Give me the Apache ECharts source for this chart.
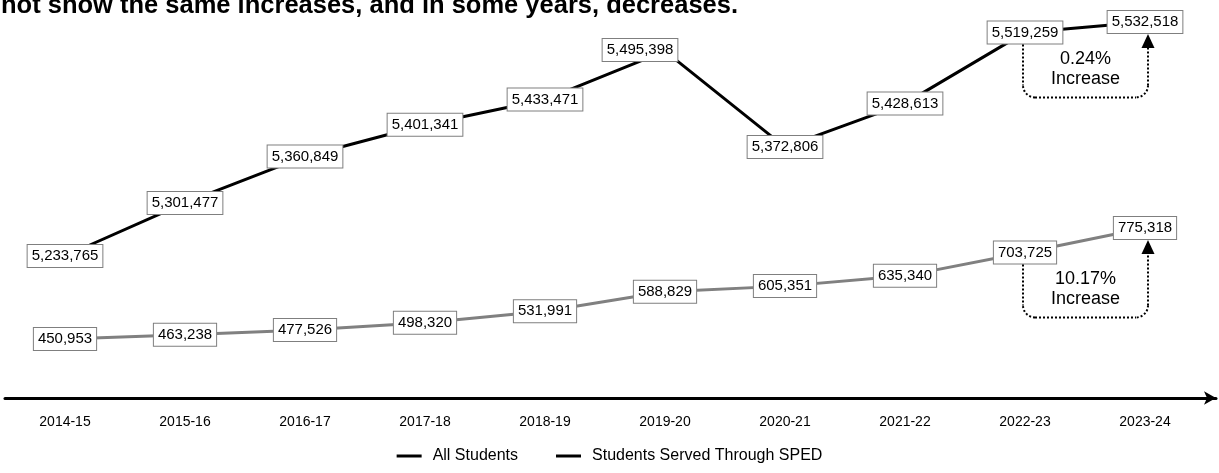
<!DOCTYPE html>
<html>
<head>
<meta charset="utf-8">
<script src="https://cdn.jsdelivr.net/npm/echarts@6/dist/echarts.min.js"></script>
<style>
  html, body { margin: 0; padding: 0; background: #fff; }
  #chart { width: 1219px; height: 473px; }
</style>
</head>
<body>
<div id="chart"></div>
<script>
// School years shown along the horizontal axis
const categories = ['2014-15', '2015-16', '2016-17', '2017-18', '2018-19',
                    '2019-20', '2020-21', '2021-22', '2022-23', '2023-24'];
// Enrollment counts
const allStudents = [5233765, 5301477, 5360849, 5401341, 5433471,
                     5495398, 5372806, 5428613, 5519259, 5532518];
const spedStudents = [450953, 463238, 477526, 498320, 531991,
                      588829, 605351, 635340, 703725, 775318];
const seriesNames = ['All Students', 'Students Served Through SPED'];
const headline = 'not show the same increases, and in some years, decreases.';

const FONT = '"Liberation Sans", Arial, Helvetica, sans-serif';
const fmt = v => v.toLocaleString('en-US');

const labelBox = {
  show: true,
  position: 'inside',
  formatter: p => fmt(p.value),
  color: '#000',
  fontFamily: FONT,
  fontSize: 15,
  lineHeight: 16,
  backgroundColor: '#fff',
  borderColor: '#7f7f7f',
  borderWidth: 1,
  padding: [3, 4]
};

const chart = echarts.init(document.getElementById('chart'), null, { renderer: 'canvas' });

chart.setOption({
  animation: false,
  backgroundColor: '#fff',
  textStyle: { fontFamily: FONT },
  grid: [
    { left: 5, width: 1200, top: 10, bottom: 75 },
    { left: 5, right: 3, top: 10, bottom: 75 }
  ],
  legend: {
    bottom: 4,
    left: 'center',
    icon: 'rect',
    itemWidth: 25,
    itemHeight: 3,
    itemGap: 38,
    textStyle: { fontFamily: FONT, fontSize: 16, color: '#000', padding: [0, 0, 0, 6] },
    data: seriesNames.map(n => ({ name: n, itemStyle: { color: '#000' } }))
  },
  xAxis: [
    {
      type: 'category',
      gridIndex: 0,
      data: categories,
      boundaryGap: true,
      axisLine: { show: false },
      axisTick: { show: false },
      axisLabel: { color: '#000', fontSize: 14, margin: 17, fontFamily: FONT }
    },
    {
      type: 'value',
      gridIndex: 1,
      min: 0, max: 1,
      axisLine: {
        show: true,
        symbol: ['none', 'arrow'],
        symbolSize: [10, 12],
        lineStyle: { color: '#000', width: 3 }
      },
      axisTick: { show: false },
      axisLabel: { show: false },
      splitLine: { show: false }
    }
  ],
  yAxis: [
    { type: 'value', gridIndex: 0, min: 5052474, max: 5547833, show: false, splitLine: { show: false } },
    { type: 'value', gridIndex: 0, min: 278673, max: 1411633, show: false, splitLine: { show: false } },
    { type: 'value', gridIndex: 1, min: 0, max: 1, show: false, splitLine: { show: false } }
  ],
  series: [
    {
      name: seriesNames[0],
      type: 'line',
      xAxisIndex: 0,
      yAxisIndex: 0,
      data: allStudents.map((v, i) => i === 5 ? { value: v, label: { offset: [-25, -1] } } : v),
      symbol: 'circle',
      symbolSize: 1,
      lineStyle: { color: '#000', width: 3 },
      itemStyle: { color: '#000' },
      label: labelBox,
      z: 3
    },
    {
      name: seriesNames[1],
      type: 'line',
      xAxisIndex: 0,
      yAxisIndex: 1,
      data: spedStudents,
      symbol: 'circle',
      symbolSize: 1,
      lineStyle: { color: '#808080', width: 3 },
      itemStyle: { color: '#808080' },
      label: labelBox,
      z: 3
    }
  ]
});

// Dotted "percent increase" callouts between the last two school years
function callout(seriesIndex, values, tag) {
  const n = values.length;
  const p0 = chart.convertToPixel({ seriesIndex }, [n - 2, values[n - 2]]);
  const p1 = chart.convertToPixel({ seriesIndex }, [n - 1, values[n - 1]]);
  const pct = ((values[n - 1] - values[n - 2]) / values[n - 2] * 100).toFixed(2) + '%';
  const x0 = p0[0] - 2;
  const x1 = p1[0] + 3;
  const yStart = p0[1] + 12;
  const yBottom = p0[1] + 65;
  const yTip = p1[1] + 12;
  const r = 12;
  const dash = { stroke: '#000', lineWidth: 2, lineDash: [2, 2], fill: null };
  const mid = (yStart + yBottom) / 2 - 2;
  return [
    { type: 'polyline', id: tag + 'l', shape: { points: [[x0, yStart], [x0, yBottom - r]] }, style: dash, z: 10 },
    { type: 'arc', id: tag + 'a1', shape: { cx: x0 + r, cy: yBottom - r, r, startAngle: Math.PI / 2, endAngle: Math.PI, clockwise: true }, style: dash, z: 10 },
    { type: 'polyline', id: tag + 'b', shape: { points: [[x0 + r, yBottom], [x1 - r, yBottom]] }, style: dash, z: 10 },
    { type: 'arc', id: tag + 'a2', shape: { cx: x1 - r, cy: yBottom - r, r, startAngle: 0, endAngle: Math.PI / 2, clockwise: true }, style: dash, z: 10 },
    { type: 'polyline', id: tag + 'r', shape: { points: [[x1, yBottom - r], [x1, yTip + 12]] }, style: dash, z: 10 },
    { type: 'polygon', id: tag + 'h', shape: { points: [[x1, yTip], [x1 - 6.5, yTip + 14], [x1 + 6.5, yTip + 14]] }, style: { fill: '#000' }, z: 10 },
    { type: 'text', id: tag + 't', x: (x0 + x1) / 2, y: mid,
      style: { text: pct + '\nIncrease', fill: '#000', font: '18px ' + FONT, lineHeight: 20, align: 'center', verticalAlign: 'middle' }, z: 10 }
  ];
}

chart.setOption({
  graphic: [
    { type: 'text', id: 'headline', left: 1, top: -7,
      style: { text: headline, fill: '#000', font: 'bold 25.5px ' + FONT } }
  ].concat(callout(0, allStudents, 'all'), callout(1, spedStudents, 'sped'))
});
</script>
</body>
</html>
